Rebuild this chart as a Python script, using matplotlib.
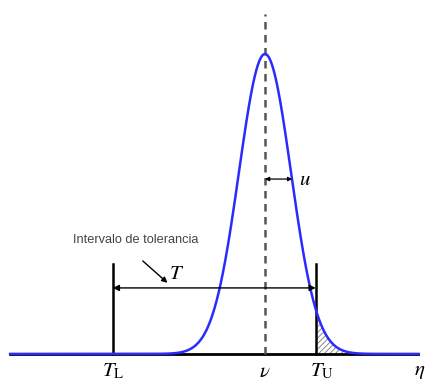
import numpy as np
import matplotlib.pyplot as plt

plt.rcParams['mathtext.fontset'] = 'stix'
plt.rcParams['hatch.linewidth'] = 0.6

# process distribution (in units of sigma) and tolerance limits
mu = 0.0
sigma = 1.0
t_low = -5.85
t_up = 1.95
u_len = 1.05
x_range = [-9.8, 5.9]

x = np.linspace(x_range[0], x_range[1], 1200)
y = np.exp(-0.5 * ((x - mu) / sigma) ** 2)

fig = plt.figure(figsize=(4.28, 3.80), dpi=100)
ax = fig.add_axes([0, 0, 1, 1])
ax.set_xlim(-10.19, 6.27)
ax.set_ylim(-0.087, 1.18)
ax.axis('off')

# axis line
ax.plot(x_range, [0, 0], color='black', lw=2, zorder=2)

# shaded tail beyond the upper limit
m = x >= t_up
ax.fill_between(x[m], 0, y[m], facecolor='white', edgecolor='#777777',
                hatch='//////', lw=0, zorder=1)

# centre line
ax.plot([mu, mu], [0, 1.133], color='#555555', lw=1.8, ls=(0, (3, 2.2)), zorder=2)

# tolerance limits
ax.plot([t_low, t_low], [0, 0.30], color='black', lw=1.8, zorder=3)
ax.plot([t_up, t_up], [0, 0.30], color='black', lw=1.8, zorder=3)

# density curve
ax.plot(x, y, color='#2b2bff', lw=1.8, zorder=4)

# tolerance interval arrow
ax.annotate('', xy=(t_low, 0.22), xytext=(t_up, 0.22),
            arrowprops=dict(arrowstyle='<|-|>', color='black', lw=1.0,
                            mutation_scale=9, shrinkA=0, shrinkB=0), zorder=5)
ax.text(-3.4, 0.235, r'$T$', fontsize=15, ha='center', va='bottom')

# u arrow
ax.annotate('', xy=(mu, 0.583), xytext=(mu + u_len, 0.583),
            arrowprops=dict(arrowstyle='<|-|>', color='black', lw=0.9,
                            mutation_scale=6, shrinkA=0, shrinkB=0), zorder=5)
ax.text(1.55, 0.583, r'$u$', fontsize=15, ha='center', va='center')

# annotation
ax.text(-7.4, 0.36, 'Intervalo de tolerancia', fontsize=9.2,
        family='Liberation Sans', color='#444444', ha='left', va='bottom')
ax.annotate('', xy=(-3.75, 0.237), xytext=(-4.7, 0.31),
            arrowprops=dict(arrowstyle='-|>', color='black', lw=1.0,
                            mutation_scale=8, shrinkA=0, shrinkB=0))

# axis labels
ax.text(t_low, -0.022, r'$T_{\mathrm{L}}$', fontsize=15, ha='center', va='top')
ax.text(mu, -0.022, r'$\nu$', fontsize=15, ha='center', va='top')
ax.text(t_up + 0.25, -0.022, r'$T_{\mathrm{U}}$', fontsize=15, ha='center', va='top')
ax.text(5.75, -0.022, r'$\eta$', fontsize=15, ha='left', va='top')

fig.savefig('out.png', dpi=100)
